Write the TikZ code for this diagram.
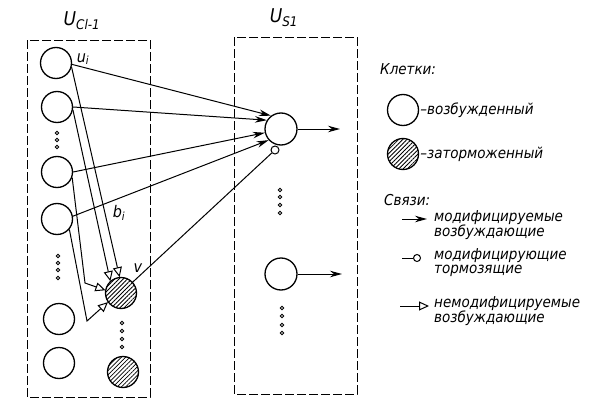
\documentclass[tikz,border=0pt]{standalone}
\usepackage{fontspec}
\setmainfont{DejaVu Sans Condensed}
\usetikzlibrary{arrows.meta,patterns.meta}

\begin{document}
\begin{tikzpicture}[x=1pt,y=-1pt,
    cell/.style={draw,line width=1.3pt,circle,minimum size=31pt,inner sep=0pt},
    hcell/.style={cell,pattern={Lines[angle=45,distance=3pt,line width=0.75pt]}},
    dot/.style={draw,line width=0.8pt,circle,minimum size=3.6pt,inner sep=0pt},
    box/.style={line width=1pt,dash pattern=on 9pt off 3pt},
    modarrow/.style={line width=1pt,-{Stealth[length=12pt,width=6.5pt]}},
    fixarrow/.style={line width=1pt,-{Triangle[open,length=10pt,width=9pt,line width=1pt]}},
    lbl/.style={font=\fontsize{15}{14}\selectfont\itshape,inner sep=0pt,anchor=west,align=left},
    sym/.style={font=\fontsize{19}{19}\selectfont\itshape,inner sep=0pt}]
        \useasboundingbox (0,0) rectangle (603,415);
        \draw[box] (27,40) rectangle (150,397);
        \draw[box] (234,37) rectangle (357,394);
        \node[sym] (lcl) at (82,21) {U\textsubscript{Cl-1}};
        \node[sym] (lsl) at (284,18) {U\textsubscript{S1}};

        \node[cell] (u1) at (56,63) {};
        \node[cell] (u2) at (57,107) {};
        \node[cell] (u3) at (57,172) {};
        \node[cell] (u4) at (57,219) {};
        \node[cell] (u5) at (59,319) {};
        \node[cell] (u6) at (59,363) {};
        \node[hcell] (v1) at (121,293) {};
        \node[hcell] (v2) at (123,372) {};
        \node[cell,minimum size=32pt] (s1) at (281,129) {};
        \node[cell,minimum size=32pt] (s2) at (281,274) {};
        \node[draw,circle,line width=1pt,minimum size=8pt,inner sep=0pt] (inh) at (275,150) {};

        \foreach \y in {133,140,147} \node[dot] (da\y) at (57,\y) {};
        \foreach \y in {256,263,270,278} \node[dot] (db\y) at (58,\y) {};
        \foreach \y in {323,331,339,347} \node[dot] (dc\y) at (122,\y) {};
        \foreach \y in {190,197,205,213} \node[dot] (dd\y) at (280,\y) {};
        \foreach \y in {308,316,325,333} \node[dot] (de\y) at (282,\y) {};

        \node[sym,font=\fontsize{16}{16}\selectfont\itshape] (lu) at (83,59) {u\textsubscript{i}};
        \node[sym,font=\fontsize{16}{16}\selectfont\itshape] (lb) at (119,213) {b\textsubscript{i}};
        \node[sym,font=\fontsize{16}{16}\selectfont\itshape] (lv) at (138,268) {v};

        \draw[modarrow] (u1.-5) -- (s1.127);
        \draw[modarrow] (u2.east) -- (s1.148);
        \draw[modarrow] (u3.east) -- (s1.193);
        \draw[modarrow] (u4.10) -- (s1.222);
        \draw[line width=1pt] (v1) -- (inh);

        \coordinate (k3) at (85,283);
        \coordinate (k4) at (87,321);
        \draw[fixarrow] (u1.-15) -- (v1.95);
        \draw[fixarrow] (u2.-10) -- (v1.132);
        \draw[fixarrow] (u3.-20) -- (k3) -- (v1.170);
        \draw[fixarrow] (u4.-40) -- (k4) -- (v1.215);

        \coordinate (o1) at (340,129);
        \coordinate (o2) at (342,274);
        \draw[modarrow] (s1) -- (o1);
        \draw[modarrow] (s2) -- (o2);

        \node[lbl] (t0) at (380,69) {Клетки:};
        \node[cell] (lc1) at (403,110) {};
        \node[lbl] (t1) at ([xshift=1pt]lc1.east) {–возбужденный};
        \node[hcell] (lc2) at (403,154) {};
        \node[lbl] (t2) at ([xshift=1pt]lc2.east) {–заторможенный};
        \node[lbl] (t3) at (384,200) {Связи:};
        \coordinate (a1) at (402,219);
        \coordinate (b1) at (427,219);
        \draw[modarrow] (a1) -- (b1);
        \node[lbl] (t4) at (434,225) {модифицируемые\\возбуждающие};
        \coordinate (a2) at (402,258);
        \node[draw,circle,line width=1pt,minimum size=7pt,inner sep=0pt] (lc3) at (417,258) {};
        \draw[line width=1pt] (a2) -- (lc3);
        \node[lbl] (t5) at (434,263) {модифицирующие\\тормозящие};
        \coordinate (a3) at (400,306);
        \coordinate (b3) at (429,306);
        \draw[fixarrow] (a3) -- (b3);
        \node[lbl] (t6) at (434,311) {немодифицируемые\\возбуждающие};
    \end{tikzpicture}
\end{document}
